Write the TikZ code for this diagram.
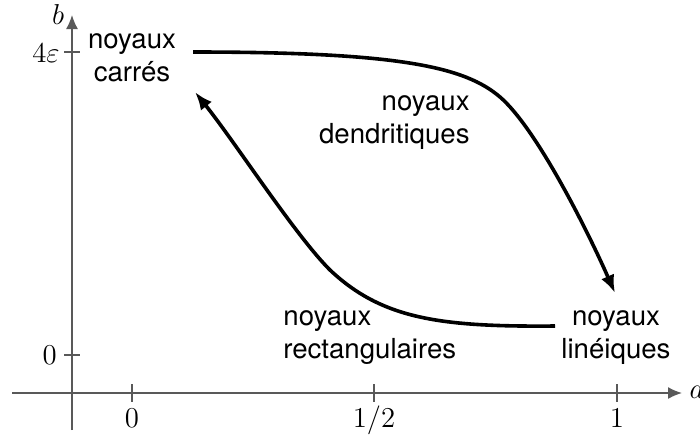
\documentclass[tikz,border=0pt]{standalone}
\usepackage{fontspec}
\setsansfont{TeX Gyre Heros}
\usetikzlibrary{arrows.meta}
\begin{document}
\begin{tikzpicture}[x=0.5pt,y=-0.5pt,
  axis/.style={draw=black!65, line width=0.75pt},
  axtip/.style={-{Latex[length=7pt,width=6pt]}},
  tick/.style={draw=black!65, line width=0.6pt},
  curve/.style={line width=1.8pt, -{Latex[length=9pt,width=7pt]}},
  lbl/.style={font=\sffamily\fontsize{13.8}{16.5}\selectfont, inner sep=0pt},
  mlbl/.style={font=\fontsize{15}{18}\selectfont, inner sep=0pt}]
\useasboundingbox (0,0) rectangle (700,441);
% axes
\coordinate (xs) at (12,393);
\coordinate (xe) at (682,393);
\coordinate (ys) at (72,430);
\coordinate (ye) at (72,15);
\draw[axis,axtip] (xs) -- (xe);
\draw[axis,axtip] (ys) -- (ye);
\node[mlbl] (alab) at (697,392) {$a$};
\node[mlbl] (blab) at (58,14) {$b$};
% y ticks
\draw[tick] (64,52) -- (80,52);
\draw[tick] (64,355) -- (80,355);
\node[mlbl,anchor=east] (y4) at (60,53) {$4\varepsilon$};
\node[mlbl,anchor=east] (y0) at (57,355) {$0$};
% x ticks
\draw[tick] (132,384) -- (132,402);
\draw[tick] (374,384) -- (374,402);
\draw[tick] (617,384) -- (617,402);
\node[mlbl] (x0) at (132,418) {$0$};
\node[mlbl] (xh) at (374,420) {$1/2$};
\node[mlbl] (x1) at (617,418) {$1$};
% labels
\node[lbl,align=center] (car) at (132,58) {noyaux\\carrés};
\node[lbl,align=right,anchor=east] (den) at (470,123) {noyaux\\dendritiques};
\node[lbl,align=left,anchor=west] (rec) at (283,338) {noyaux\\rectangulaires};
\node[lbl,align=center] (lin) at (616,338) {noyaux\\linéiques};
% curves
\coordinate (c1s) at (193,52);
\coordinate (c1m) at (500,97);
\coordinate (c1e) at (615,293);
\draw[curve] (c1s) .. controls (400,52) and (465,67) .. (c1m)
  .. controls (535,127) and (585,225) .. (c1e);
\coordinate (c2s) at (555,326);
\coordinate (c2m) at (330,270);
\coordinate (c2e) at (195,92);
\draw[curve] (c2s) .. controls (440,327) and (382,319) .. (c2m)
  .. controls (295,235) and (235,142) .. (c2e);
\end{tikzpicture}
\end{document}
